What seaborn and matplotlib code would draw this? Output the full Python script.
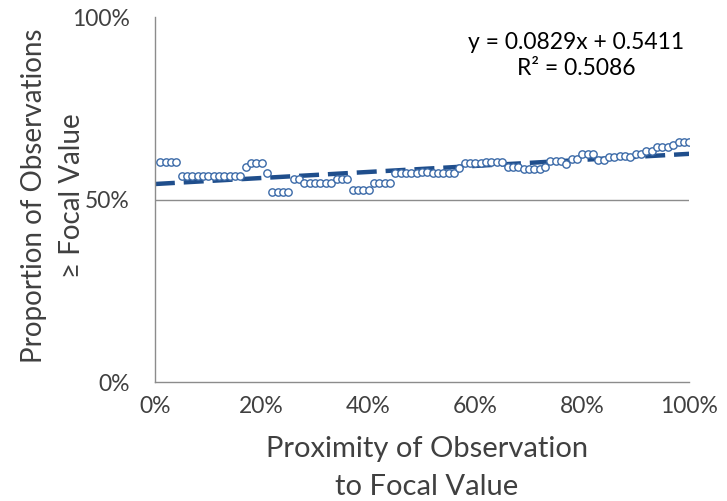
import matplotlib
matplotlib.use("Agg")
import matplotlib.pyplot as plt
import seaborn as sns
import numpy as np
import pandas as pd
from matplotlib.ticker import FuncFormatter

# Proximity of observation to focal value (%)
proximity_pct = list(range(1, 101))
# Proportion of observations >= focal value (%)
proportion_pct = [
    60.3, 60.3, 60.3, 60.3,
    56.4, 56.4, 56.4, 56.4, 56.4, 56.4, 56.4, 56.4, 56.4, 56.4, 56.4, 56.4,
    59.0, 60.1, 60.1, 60.1, 57.3,
    52.0, 52.0, 52.0, 52.0,
    55.5, 55.5,
    54.6, 54.6, 54.6, 54.6, 54.6, 54.6,
    55.6, 55.6, 55.6,
    52.5, 52.5, 52.5, 52.5,
    54.6, 54.6, 54.6, 54.6,
    57.3, 57.3, 57.3, 57.3, 57.3, 57.6, 57.6, 57.3, 57.3, 57.3, 57.3, 57.3,
    58.7,
    59.9, 59.9, 59.9, 59.9, 60.3, 60.3, 60.3,
    60.2, 59.0, 59.0, 59.0, 58.5, 58.5, 58.3, 58.3, 59.0,
    60.6, 60.6, 60.6, 59.7, 61.0, 61.0,
    62.4, 62.4, 62.4, 60.8, 60.8,
    61.7, 61.7, 62.0, 62.0, 61.7,
    62.6, 62.6, 63.4, 63.4,
    64.3, 64.3, 64.5, 65.0,
    65.8, 65.8, 65.8,
]
equation_text = "y = 0.0829x + 0.5411"
r2_text = "R² = 0.5086"
x_ticks = [0, 0.2, 0.4, 0.6, 0.8, 1.0]
y_ticks = [0, 0.5, 1.0]

df = pd.DataFrame({
    "x": np.array(proximity_pct) / 100.0,
    "y": np.array(proportion_pct) / 100.0,
})

sns.set_style("white")
plt.rcParams["font.family"] = ["Lato", "DejaVu Sans"]

fig = plt.figure(figsize=(7.27, 5.01), dpi=100)
ax = fig.add_axes([0.213, 0.2375, 0.735, 0.7285])
ax.set_xlim(0, 1)
ax.set_ylim(0, 1)

ax.axhline(0.5, color="#8c8c8c", lw=1.0, zorder=0)

sns.scatterplot(data=df, x="x", y="y", ax=ax, marker="o", s=28,
                facecolor="white", edgecolor="#3b6aa8", linewidth=1.0, zorder=3)
sns.regplot(data=df, x="x", y="y", ax=ax, scatter=False, ci=None, truncate=False,
            line_kws=dict(color="#1f4e8c", lw=3.2, dashes=(4.5, 2.0),
                          dash_capstyle="butt", zorder=2))

ax.set_xticks(x_ticks)
ax.set_yticks(y_ticks)
fmt = FuncFormatter(lambda v, p: f"{v*100:.0f}%")
ax.xaxis.set_major_formatter(fmt)
ax.yaxis.set_major_formatter(fmt)
ax.tick_params(axis="both", labelsize=16.5, colors="#404040", length=0)
ax.tick_params(axis="x", pad=10)
ax.tick_params(axis="y", pad=18)
for lab in ax.get_xticklabels() + ax.get_yticklabels():
    lab.set_color("#404040")

ax.set_xlabel("Proximity of Observation\nto Focal Value", fontsize=21,
              color="#404040", linespacing=1.55, va="center")
ax.xaxis.set_label_coords(0.509, -0.236)
ax.set_ylabel("Proportion of Observations\n≥ Focal Value", fontsize=20,
              color="#404040", linespacing=1.55, va="center")
ax.yaxis.set_label_coords(-0.191, 0.51)

for side in ["top", "right"]:
    ax.spines[side].set_visible(False)
for side in ["left", "bottom"]:
    ax.spines[side].set_color("#8c8c8c")
    ax.spines[side].set_linewidth(1.0)

ax.text(0.788, 0.894, equation_text + "\n" + r2_text, transform=ax.transAxes,
        ha="center", va="center", fontsize=16.5, color="#000000", linespacing=1.3)

fig.savefig("out.png", dpi=100)
